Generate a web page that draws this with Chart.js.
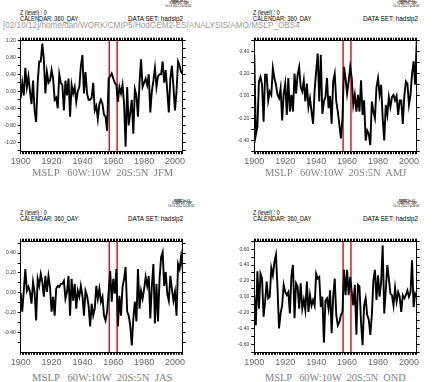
<!DOCTYPE html>
<html><head><meta charset="utf-8">
<script src="https://cdn.jsdelivr.net/npm/chart.js@4"></script>
<style>
html,body{margin:0;padding:0;background:#fff;width:433px;height:382px;overflow:hidden;position:relative;font-family:"Liberation Sans",sans-serif}
.t{position:absolute;white-space:pre;line-height:1;transform-origin:0 0;display:inline-block;color:#000}
.c{position:absolute}
</style></head><body>
<canvas id="c1" class="c"></canvas>
<canvas id="c2" class="c"></canvas>
<canvas id="c3" class="c"></canvas>
<canvas id="c4" class="c"></canvas>
<script>
// ---------- data ----------
const firstYear = 1900, lastYear = 2005;
const years = Array.from({length: lastYear - firstYear + 1}, (_, i) => firstYear + i);
const redLineYears = [1957.4, 1962.5];
const panelTitles = ["MSLP   60W:10W  20S:5N  JFM", "MSLP   60W:10W  20S:5N  AMJ", "MSLP   60W:10W  20S:5N  JAS", "MSLP   60W:10W  20S:5N  OND"];
const xLabelYears = [1900, 1920, 1940, 1960, 1980, 2000];

const jfm = [-0.16,0.20,-0.10,0.55,0.10,0.35,0.00,-0.30,0.25,-0.45,
 -0.72,0.20,0.70,0.70,1.12,0.75,-0.05,0.45,0.20,0.25,
 0.50,0.30,-0.20,-0.15,-0.40,0.40,0.20,0.15,-0.45,0.25,
 -0.10,0.30,-0.60,0.15,-0.05,0.10,-0.25,0.00,0.10,0.60,
 0.85,-0.05,0.45,-0.05,-0.20,-0.20,-0.15,0.20,-0.45,-0.35,
 -0.65,-0.30,-0.20,-0.30,-0.55,-0.60,-0.93,0.30,0.35,0.42,
 0.30,0.20,0.15,-0.25,0.10,-0.05,0.15,-0.30,-1.30,0.10,
 -0.80,-0.50,-0.20,-1.00,0.05,-0.10,-0.60,0.20,0.75,0.10,
 0.20,0.30,0.15,0.40,-0.50,0.00,0.25,0.55,0.10,0.35,
 0.40,0.40,0.70,0.20,0.50,0.00,-0.50,0.30,0.60,0.10,
 -0.45,0.00,0.70,0.60,0.45,0.40];
const amj = [0.37,-0.35,-0.28,0.13,0.17,0.10,-0.23,0.19,0.19,-0.04,
 0.04,0.01,0.25,0.16,0.10,0.01,-0.02,0.07,-0.22,0.02,
 0.11,-0.17,0.16,-0.14,0.01,-0.14,0.20,0.02,0.19,0.26,
 0.08,0.04,0.14,-0.05,0.11,-0.10,-0.02,-0.14,-0.25,0.05,
 0.22,0.38,-0.05,0.37,-0.16,-0.05,-0.01,0.16,-0.11,0.00,
 -0.25,0.13,0.20,-0.05,-0.14,-0.26,-0.38,-0.20,0.26,0.16,
 0.02,0.13,0.26,0.16,-0.08,0.01,-0.14,0.01,-0.14,0.14,
 -0.17,-0.04,-0.40,-0.31,-0.34,-0.44,-0.05,-0.14,-0.20,0.08,
 0.16,0.01,0.10,-0.20,-0.40,-0.08,-0.17,-0.01,-0.10,-0.01,
 0.01,-0.04,0.00,-0.17,-0.04,-0.04,-0.25,0.00,0.13,0.11,
 -0.08,0.01,0.20,0.31,0.10,0.49];
const jas = [0.00,-0.19,0.02,0.24,0.02,0.06,0.01,-0.11,0.11,0.01,
 -0.28,0.14,0.07,0.19,0.11,-0.04,0.17,0.01,0.17,0.06,
 -0.19,-0.04,-0.23,0.04,0.07,0.06,0.09,0.09,0.12,-0.06,
 0.01,0.17,-0.23,0.14,-0.08,0.09,-0.16,0.02,-0.04,0.07,
 -0.03,-0.23,0.02,-0.03,-0.13,-0.34,-0.11,-0.23,-0.16,0.07,
 -0.06,0.04,-0.09,-0.04,-0.23,-0.28,-0.19,0.01,0.22,-0.09,
 0.14,-0.01,0.24,-0.34,-0.03,-0.23,0.06,0.14,0.26,-0.19,
 -0.23,-0.33,-0.53,-0.26,-0.09,-0.29,0.24,-0.16,0.02,-0.06,
 0.04,0.16,0.07,0.17,-0.26,0.07,0.29,-0.31,0.09,-0.29,
 0.14,0.36,0.41,0.07,0.21,-0.01,-0.08,0.17,0.04,-0.08,
 0.01,-0.23,0.29,0.24,0.37,0.24];
const ond = [0.02,-0.36,0.32,-0.15,0.29,0.23,-0.25,-0.06,0.19,-0.02,
 0.00,0.36,0.27,0.44,0.53,0.11,-0.40,-0.21,-0.11,0.15,
 0.06,0.02,0.06,-0.21,0.27,0.40,-0.27,0.17,0.13,-0.15,
 0.17,-0.15,-0.04,-0.17,0.19,-0.19,0.02,-0.11,-0.04,-0.11,
 0.29,0.23,0.25,-0.13,0.00,-0.58,-0.05,-0.02,-0.15,0.08,
 -0.46,0.00,0.23,-0.23,-0.36,-0.32,-0.23,-0.19,0.34,0.02,
 0.34,0.02,0.25,0.06,-0.11,0.15,-0.48,0.15,0.13,-0.32,
 -0.61,-0.11,-0.02,-0.23,-0.29,-0.48,-0.23,0.21,0.34,-0.04,
 0.27,0.00,0.19,0.65,-0.21,0.08,0.40,0.23,0.04,0.02,
 -0.11,0.11,-0.06,0.06,0.00,-0.19,0.02,-0.02,0.02,0.08,
 0.00,0.06,0.46,-0.13,0.04,0.00];

// ---------- layout ----------
const FONT = '"Liberation Sans", sans-serif';
const panels = [
  {id:'c1', vals:jfm, canvas:{l:0,t:30,w:192,h:140},   area:{l:20.7,t:40,r:182.7,b:151.7}, y:{min:-1.42,max:1.2,minor:0.2,major:0.4}},
  {id:'c2', vals:amj, canvas:{l:235,t:30,w:198,h:140}, area:{l:254.3,t:40,r:416.7,b:151.7}, y:{min:-0.5,max:0.5,minor:0.1,major:0.2}},
  {id:'c3', vals:jas, canvas:{l:0,t:231,w:192,h:139},  area:{l:20.7,t:241,r:182.7,b:352.3}, y:{min:-0.6,max:0.52,minor:0.1,major:0.2}},
  {id:'c4', vals:ond, canvas:{l:235,t:231,w:198,h:139},area:{l:254.3,t:241,r:416.7,b:352.3}, y:{min:-0.7,max:0.7,minor:0.1,major:0.2}}
];

function isMult(v, m){ return Math.abs(Math.round(v/m)*m - v) < 1e-6; }

panels.forEach(p => {
  const cv = document.getElementById(p.id);
  cv.style.left = p.canvas.l + 'px'; cv.style.top = p.canvas.t + 'px';
  cv.width = p.canvas.w; cv.height = p.canvas.h;
  cv.style.width = p.canvas.w + 'px'; cv.style.height = p.canvas.h + 'px';
  const leftW = p.area.l - p.canvas.l;
  const rightW = p.canvas.l + p.canvas.w - p.area.r;
  const topH = p.area.t - p.canvas.t;
  const botH = p.canvas.t + p.canvas.h - p.area.b;
  const grid = {drawOnChartArea:false, tickLength:2.5, color:'#000', tickColor:'#000', lineWidth:1};
  const border = {color:'#000', width:1};
  const xCommon = {type:'linear', min:firstYear, max:lastYear, grid, border};
  const yCommon = {type:'linear', min:p.y.min, max:p.y.max, grid:{...grid, tickLength:3}, border};
  const datasets = [{
    data: years.map((yr,i)=>({x:yr, y:p.vals[i]})),
    borderColor:'#000', borderWidth:1.9, pointRadius:0, tension:0, fill:false
  }];
  redLineYears.forEach(r => datasets.push({
    data:[{x:r,y:p.y.min},{x:r,y:p.y.max}],
    borderColor:'#e8141c', borderWidth:1.5, pointRadius:0, fill:false
  }));
  new Chart(cv, {
    type:'line',
    data:{datasets},
    options:{
      responsive:false, animation:false, devicePixelRatio:1,
      layout:{padding:0},
      plugins:{legend:{display:false}, tooltip:{enabled:false}},
      scales:{
        x:{...xCommon, position:'bottom',
           ticks:{stepSize:1, autoSkip:false, maxRotation:0, includeBounds:false, padding:2,
                  color:'#666', font:{family:FONT, size:9},
                  callback:v => xLabelYears.includes(v) ? String(v) : ''},
           afterFit:s => { s.height = botH; }},
        x2:{...xCommon, position:'top',
           ticks:{stepSize:1, autoSkip:false, maxRotation:0, includeBounds:false, callback:()=>''},
           afterFit:s => { s.height = topH; }},
        y:{...yCommon, position:'left',
           ticks:{stepSize:p.y.minor, autoSkip:false, includeBounds:false, padding:2,
                  color:'#333', font:{family:FONT, size:5},
                  callback:v => isMult(v, p.y.major) ? (Math.abs(v)<1e-9 ? 0 : v).toFixed(2) : ''},
           afterFit:s => { s.width = leftW; }},
        y2:{...yCommon, position:'right',
           ticks:{stepSize:p.y.minor, autoSkip:false, includeBounds:false, callback:()=>''},
           afterFit:s => { s.width = rightW; }}
      }
    }
  });
});

// ---------- texts ----------
function addText(str, left, cy, size, width, opts={}) {
  const d = document.createElement('div');
  d.className = 't';
  d.textContent = str;
  d.style.left = left + 'px';
  d.style.top = (cy - size/2) + 'px';
  d.style.fontSize = size + 'px';
  if (opts.family) d.style.fontFamily = opts.family;
  if (opts.color) d.style.color = opts.color;
  if (opts.weight) d.style.fontWeight = opts.weight;
  document.body.appendChild(d);
  if (width) { const w = d.offsetWidth; if (w>0) d.style.transform = 'scaleX(' + (width/w) + ')'; }
}
const headerOffsets = [{x:20, y:0, dx:128, sx:165}, {x:253, y:0, dx:363, sx:393}, {x:20, y:200, dx:128, sx:168}, {x:253, y:200, dx:363, sx:393}];
headerOffsets.forEach(h => {
  addText('Z (level) : 0', h.x, 13 + h.y, 6.5, 27);
  addText('CALENDAR: 360_DAY', h.x, 19 + h.y, 6.5, 58);
  addText('DATA SET: hadslp2', h.dx, 19 + h.y, 6.5, 55);
  addText('FERRET Ver. 6.1', h.sx + 6, 2 + h.y, 2.6, 16, {weight:'bold'});
  addText('NOAA/PMEL TMAP', h.sx + 4, 4.6 + h.y, 2.6, 20);
  addText('Oct 3 2012 10:26:02', h.sx, 7.2 + h.y, 2.6, 27);
});
addText('[02/10/12]/home/dan/WORK/CMIP5/HodGEM2-ES/ANALYSIS/AMO/MSLP_OBS4', 3, 25, 9.5, 297, {color:'#9a9a9a'});
const titlePos = [{x:32,y:173},{x:265,y:173},{x:32,y:378},{x:265,y:378}];
titlePos.forEach((t,i) => addText(panelTitles[i], t.x, t.y, 10, 141, {family:'"Liberation Serif", serif', color:'#808080'}));
</script>
</body></html>
